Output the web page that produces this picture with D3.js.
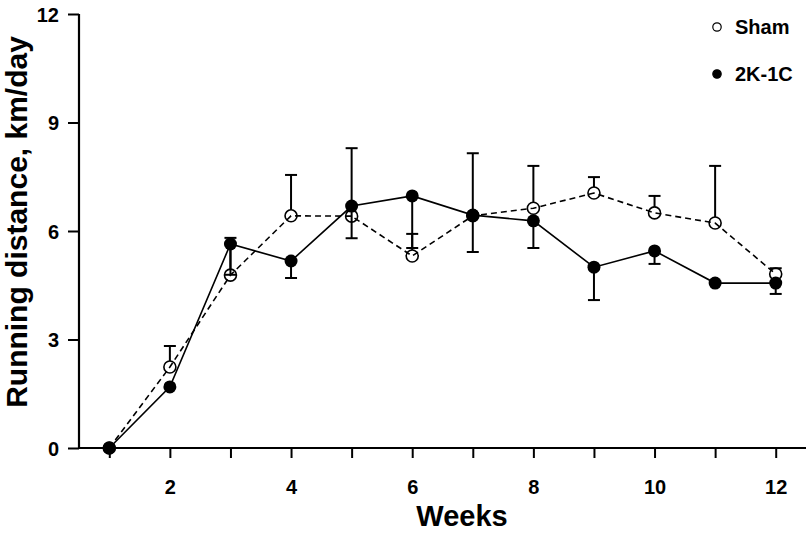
<!DOCTYPE html>
<html>
<head>
<meta charset="utf-8">
<script src="https://cdn.jsdelivr.net/npm/d3@7"></script>
<style>
  html, body { margin: 0; padding: 0; background: #fff; }
  svg { display: block; }
  text { font-family: "Liberation Sans", Arial, sans-serif; font-weight: bold; fill: #000; }
</style>
</head>
<body>
<svg id="chart" width="806" height="536"></svg>
<script>
const weeks = [1, 2, 3, 4, 5, 6, 7, 8, 9, 10, 11, 12];
const shamMean = [0, 2.24, 4.78, 6.42, 6.41, 5.31, 6.42, 6.63, 7.05, 6.50, 6.22, 4.81];
const shamErr  = [0, 0.58, 1.03, 1.13, 1.88, 0.61, 1.73, 1.17, 0.44, 0.47, 1.58, 0.16];
const kcMean   = [0, 1.69, 5.64, 5.17, 6.69, 6.97, 6.44, 6.28, 5.00, 5.45, 4.56, 4.56];
const kcErr    = [0, 0, 0.85, 0.47, 0.89, 1.44, 1.02, 0.75, 0.91, 0.36, 0, 0.30];
const yTicks = [0, 3, 6, 9, 12];
const xTickLabels = [2, 4, 6, 8, 10, 12];
const seriesNames = ["Sham", "2K-1C"];

const svg = d3.select("#chart");
const x = d3.scaleLinear().domain([0.5, 12.5]).range([79, 806]);
const y = d3.scaleLinear().domain([0, 12]).range([448, 14]);
const r = 6;

// axes
const xAxis = d3.axisBottom(x).tickValues(weeks).tickSize(10)
  .tickFormat(d => xTickLabels.includes(d) ? d : "");
const gx = svg.append("g").attr("transform", "translate(0,448)").call(xAxis);
gx.select(".domain").attr("d", `M${x.range()[0]},0H${x.range()[1]}`).attr("stroke-width", 2.2);
gx.selectAll(".tick line").attr("stroke-width", 2);
gx.selectAll(".tick text").attr("dy", 0).attr("y", 46)
  .style("font-size", "20px").style("font-weight", "bold")
  .style("font-family", "'Liberation Sans', Arial, sans-serif");

const yAxis = d3.axisLeft(y).tickValues(yTicks).tickSize(11);
const gy = svg.append("g").attr("transform", "translate(79,0)").call(yAxis);
gy.select(".domain").attr("d", `M0,${y(12)}V${y(0)}`).attr("stroke-width", 2.2);
gy.selectAll(".tick line").attr("stroke-width", 2);
gy.selectAll(".tick text").attr("x", -20).attr("dy", "0.36em")
  .style("font-size", "20px").style("font-weight", "bold")
  .style("font-family", "'Liberation Sans', Arial, sans-serif");

svg.append("text").attr("x", 462).attr("y", 526).attr("text-anchor", "middle")
  .style("font-size", "29px").text("Weeks");
svg.append("text").attr("transform", "translate(27,222) rotate(-90)")
  .attr("text-anchor", "middle").style("font-size", "30px").text("Running distance, km/day");

// lines
const line = d3.line().x((d, i) => x(weeks[i])).y(d => y(d));
svg.append("path").datum(shamMean).attr("d", line).attr("fill", "none")
  .attr("stroke", "#000").attr("stroke-width", 1.6).attr("stroke-dasharray", "6,4");
svg.append("path").datum(kcMean).attr("d", line).attr("fill", "none")
  .attr("stroke", "#000").attr("stroke-width", 1.6);

// error bars
const cap = 6;
const eb = svg.append("g").attr("stroke", "#000").attr("stroke-width", 2);
weeks.forEach((w, i) => {
  if (shamErr[i] > 0) {
    const y0 = y(shamMean[i]) - r, y1 = y(shamMean[i] + shamErr[i]);
    if (y1 < y0) {
      eb.append("line").attr("x1", x(w)).attr("x2", x(w)).attr("y1", y0).attr("y2", y1);
    }
    eb.append("line").attr("x1", x(w) - cap).attr("x2", x(w) + cap).attr("y1", y1).attr("y2", y1);
  }
  if (kcErr[i] > 0) {
    const y0 = y(kcMean[i]), y1 = y(kcMean[i] - kcErr[i]);
    eb.append("line").attr("x1", x(w)).attr("x2", x(w)).attr("y1", y0).attr("y2", y1);
    eb.append("line").attr("x1", x(w) - cap).attr("x2", x(w) + cap).attr("y1", y1).attr("y2", y1);
  }
});

// markers
svg.append("g").selectAll("circle").data(shamMean).join("circle")
  .attr("cx", (d, i) => x(weeks[i])).attr("cy", d => y(d)).attr("r", r)
  .attr("fill", "none").attr("stroke", "#000").attr("stroke-width", 1.6);
svg.append("g").selectAll("circle").data(kcMean).join("circle")
  .attr("cx", (d, i) => x(weeks[i])).attr("cy", d => y(d)).attr("r", r + 0.5)
  .attr("fill", "#000");

// legend
const lg = svg.append("g");
seriesNames.forEach((name, i) => {
  const cy = 27 + i * 47;
  lg.append("circle").attr("cx", 717).attr("cy", cy).attr("r", 4.2)
    .attr("fill", i === 0 ? "#fff" : "#000").attr("stroke", "#000").attr("stroke-width", 1.2);
  lg.append("text").attr("x", 735).attr("y", cy + 7).style("font-size", "20px").text(name);
});
</script>
</body>
</html>
